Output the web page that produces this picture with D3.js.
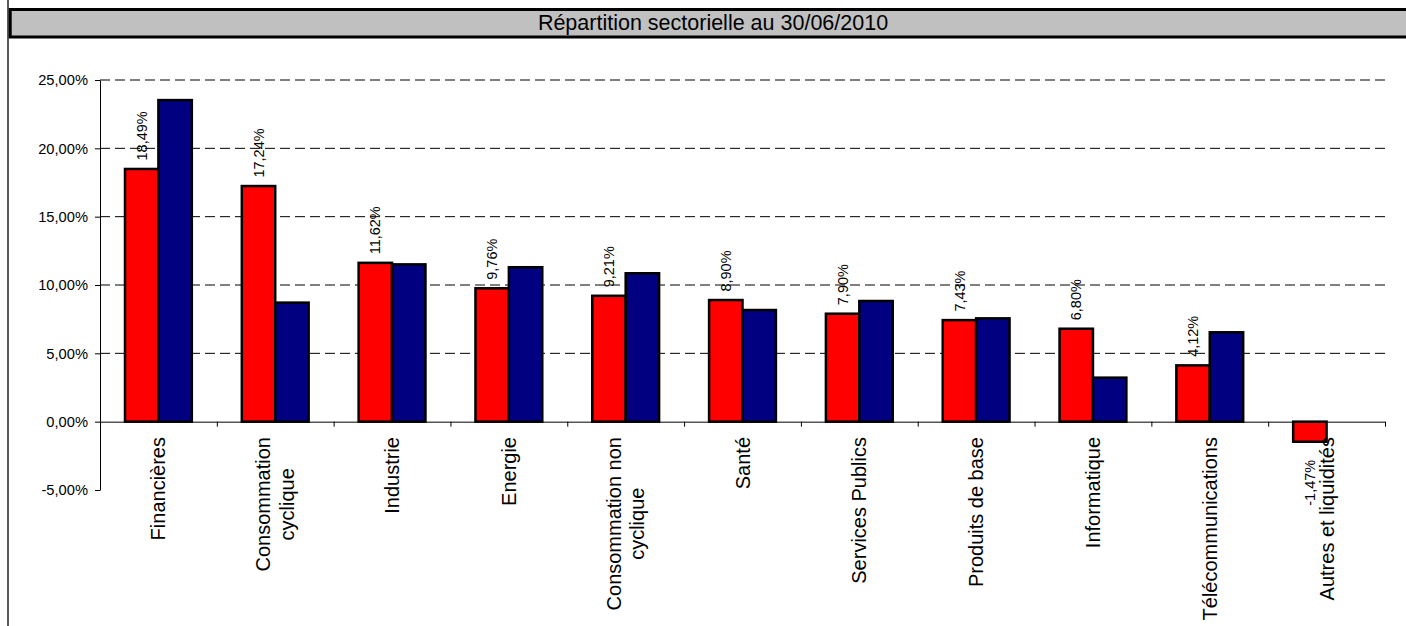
<!DOCTYPE html>
<html>
<head>
<meta charset="utf-8">
<script src="https://cdn.jsdelivr.net/npm/d3@7/dist/d3.min.js"></script>
<style>
  body { margin: 0; background: #fff; }
  svg { display: block; font-family: "Liberation Sans", Arial, sans-serif; }
</style>
</head>
<body>
<svg></svg>
<script>
var width = 1406;
var height = 626;

// data
var categories = ['Financières', 'Consommation\ncyclique', 'Industrie', 'Energie',
                  'Consommation non\ncyclique', 'Santé', 'Services Publics',
                  'Produits de base', 'Informatique', 'Télécommunications',
                  'Autres et liquidités'];
var fundValues = [18.49, 17.24, 11.62, 9.76, 9.21, 8.90, 7.90, 7.43, 6.80, 4.12, -1.47];
var indexValues = [23.53, 8.71, 11.51, 11.30, 10.86, 8.17, 8.83, 7.56, 3.22, 6.54, null];
var yTicks = [-5, 0, 5, 10, 15, 20, 25];
var gridTicks = [5, 10, 15, 20, 25];
var seriesKeys = ['fund', 'index'];
var seriesColors = ['#ff0000', '#000080'];
var title = 'Répartition sectorielle au 30/06/2010';

// note: "top" is taken by window.top, hence the plot* names
var plotLeft = 100, plotRight = 1385, plotTop = 80, plotBottom = 490;

var svg = d3.select('svg')
    .attr('width', width)
    .attr('height', height);

var fmt = function (v) { return v.toFixed(2).replace('.', ',') + '%'; };

var Yscale = d3.scaleLinear().domain([-5, 25]).range([plotBottom, plotTop]);
var Xscale = d3.scaleBand().domain(categories).range([plotLeft, plotRight])
    .paddingInner(0.428).paddingOuter(0.214);
var subScale = d3.scaleBand().domain(seriesKeys).range([0, Xscale.bandwidth()]);
var edgeScale = d3.scaleLinear().domain([0, categories.length]).range([plotLeft, plotRight]);

// outer frame line + title bar
svg.append('line')
    .attr('x1', 8).attr('x2', 8).attr('y1', 0).attr('y2', height)
    .attr('stroke', '#222').attr('stroke-width', 1.5);

svg.append('rect')
    .attr('x', 10.2).attr('y', 9.5)
    .attr('width', 1410).attr('height', 27.5)
    .attr('fill', '#c0c0c0')
    .attr('stroke', '#000').attr('stroke-width', 3);

svg.append('text')
    .attr('x', 713).attr('y', 30)
    .attr('text-anchor', 'middle')
    .style('font-size', '21.5px')
    .attr('fill', '#000')
    .text(title);

// dashed gridlines
svg.append('g')
    .selectAll('line')
    .data(gridTicks)
    .enter()
    .append('line')
    .attr('x1', plotLeft).attr('x2', plotRight)
    .attr('y1', d => Yscale(d)).attr('y2', d => Yscale(d))
    .attr('stroke', '#000')
    .attr('stroke-dasharray', '10,5');

// bars
var rows = categories.map((c, i) => ({cat: c, fund: fundValues[i], index: indexValues[i]}));

var groups = svg.append('g')
    .selectAll('g')
    .data(rows)
    .enter()
    .append('g')
    .attr('transform', d => `translate(${Xscale(d.cat)},0)`);

groups.selectAll('rect')
    .data(d => seriesKeys.map((k, j) => ({key: k, value: d[k], color: seriesColors[j]})).filter(s => s.value != null))
    .enter()
    .append('rect')
    .attr('x', d => subScale(d.key))
    .attr('y', d => Math.min(Yscale(d.value), Yscale(0)))
    .attr('width', subScale.bandwidth())
    .attr('height', d => Math.abs(Yscale(d.value) - Yscale(0)))
    .attr('fill', d => d.color)
    .attr('stroke', '#000')
    .attr('stroke-width', 2.5);

// axes
var Yaxis = d3.axisLeft(Yscale)
    .tickValues(yTicks)
    .tickSize(5)
    .tickSizeOuter(0)
    .tickPadding(7)
    .tickFormat(fmt);

var yG = svg.append('g')
    .attr('transform', `translate(${plotLeft},0)`)
    .call(Yaxis);
yG.selectAll('text').style('font-size', '14.7px').attr('fill', '#000');

var Xaxis = d3.axisBottom(edgeScale)
    .tickValues(d3.range(categories.length + 1))
    .tickSize(5)
    .tickSizeOuter(0)
    .tickFormat('');

svg.append('g')
    .attr('transform', `translate(0,${Yscale(0)})`)
    .call(Xaxis);

svg.selectAll('.domain, .tick line').attr('stroke', '#000');

// value labels on the red bars
svg.append('g')
    .selectAll('text')
    .data(rows)
    .enter()
    .append('text')
    .attr('transform', d => {
        var cx = Xscale(d.cat) + subScale('fund') + subScale.bandwidth() / 2;
        var y = d.fund >= 0 ? Yscale(d.fund) - 8.5 : Yscale(d.fund) + 18;
        return `translate(${cx},${y}) rotate(-90)`;
    })
    .attr('text-anchor', d => d.fund >= 0 ? 'start' : 'end')
    .attr('dy', '0.35em')
    .style('font-size', '14.5px')
    .attr('fill', '#000')
    .text(d => fmt(d.fund));

// category labels, rotated, top aligned under the axis
var lineGap = 23.5;
var catLabels = svg.append('g')
    .selectAll('text')
    .data(categories)
    .enter()
    .append('text')
    .attr('transform', d => `translate(${Xscale(d) + Xscale.bandwidth() / 2},437) rotate(-90)`)
    .attr('text-anchor', 'middle')
    .style('font-size', '20px')
    .attr('fill', '#000');

catLabels.each(function (d) {
    var lines = d.split('\n');
    var t = d3.select(this);
    var spans = lines.map((l, i) => t.append('tspan')
        .attr('y', (i - (lines.length - 1) / 2) * lineGap)
        .attr('dy', '0.35em')
        .text(l));
    var maxLen = d3.max(spans, s => s.node().getComputedTextLength());
    spans.forEach(s => s.attr('x', -maxLen / 2));
});
</script>
</body>
</html>
